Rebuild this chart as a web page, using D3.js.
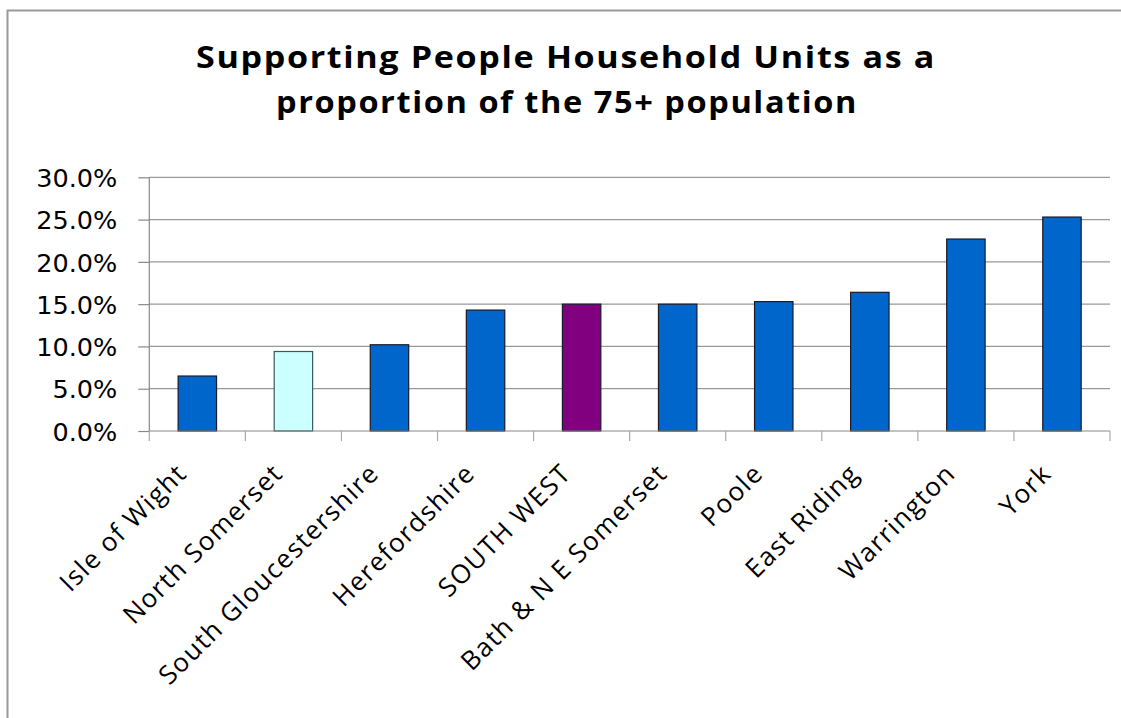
<!DOCTYPE html>
<html>
<head>
<meta charset="utf-8">
<script src="https://cdn.jsdelivr.net/npm/d3@7"></script>
<style>
  html, body { margin: 0; padding: 0; background: #fff; }
  svg { display: block; }
</style>
</head>
<body>
<svg id="chart" width="1121" height="718"></svg>
<script>
// ---- data ----
const categories = ["Isle of Wight", "North Somerset", "South Gloucestershire", "Herefordshire",
  "SOUTH WEST", "Bath & N E Somerset", "Poole", "East Riding", "Warrington", "York"];
const values = [0.065, 0.094, 0.102, 0.143, 0.150, 0.150, 0.153, 0.164, 0.227, 0.253];
const yTicks = [0, 0.05, 0.10, 0.15, 0.20, 0.25, 0.30];
const titleLines = ["Supporting People Household Units as a", "proportion of the 75+ population"];

// ---- styles ----
const colorDefault = "#0066CC";
const colorSpecial = { "North Somerset": "#CCFFFF", "SOUTH WEST": "#800080" };

const svg = d3.select("#chart");

// frame
svg.append("path")
  .attr("d", "M7.5,718 L7.5,10.5 L1121,10.5")
  .attr("fill", "none").attr("stroke", "#9a9a9a").attr("stroke-width", 2);

// title
const tWidths = [[196, 936], [276, 858]];
const tBase = [68, 113];
titleLines.forEach((t, i) => {
  svg.append("text")
    .attr("x", tWidths[i][0]).attr("y", tBase[i])
    .attr("textLength", tWidths[i][1] - tWidths[i][0])
    .attr("lengthAdjust", "spacingAndGlyphs")
    .attr("font-family", "'Open Sans', sans-serif")
    .attr("font-weight", "bold")
    .attr("font-size", 31)
    .attr("letter-spacing", 1.5)
    .attr("fill", "#000")
    .text(t);
});

const x = d3.scaleBand().domain(categories).range([149.3, 1110]).paddingInner(0.6).paddingOuter(0.3);
const y = d3.scaleLinear().domain([0, 0.30]).range([431, 177.3]);

// gridlines
svg.append("g").selectAll("line").data(yTicks.slice(1)).join("line")
  .attr("x1", 149.3).attr("x2", 1110)
  .attr("y1", d => y(d)).attr("y2", d => y(d))
  .attr("stroke", "#999").attr("stroke-width", 1.2);

// y axis
const yAxis = svg.append("g").attr("transform", "translate(149.3,0)")
  .call(d3.axisLeft(y).tickValues(yTicks).tickSize(11).tickPadding(21).tickFormat(d3.format(".1%")));
yAxis.selectAll("path, line").attr("stroke", "#888").attr("stroke-width", 1.2);
yAxis.select(".domain").attr("d", `M0,${y(0)}V${y(0.30)}`);
yAxis.selectAll("text")
  .attr("font-family", "'DejaVu Sans', sans-serif").attr("font-size", 25.5).attr("fill", "#000")
  .attr("dy", "0.36em");

// bars
svg.append("g").selectAll("rect").data(categories).join("rect")
  .attr("x", d => x(d))
  .attr("width", x.bandwidth())
  .attr("y", (d, i) => y(values[i]))
  .attr("height", (d, i) => y(0) - y(values[i]))
  .attr("fill", d => colorSpecial[d] || colorDefault)
  .attr("stroke", d => d === "North Somerset" ? "#3a5a5a" : "#1a1a2a")
  .attr("stroke-width", 1.2);

// x axis
const step = x.step();
const xAxisG = svg.append("g");
xAxisG.append("line").attr("x1", 149.3).attr("x2", 1110).attr("y1", y(0)).attr("y2", y(0))
  .attr("stroke", "#888").attr("stroke-width", 1.2);
const tickXs = d3.range(categories.length + 1).map(i => 149.3 + i * step);
xAxisG.selectAll("line.tk").data(tickXs).join("line").attr("class", "tk")
  .attr("x1", d => d).attr("x2", d => d).attr("y1", y(0)).attr("y2", y(0) + 10)
  .attr("stroke", "#aaa").attr("stroke-width", 1.2);

xAxisG.selectAll("text").data(categories).join("text")
  .attr("transform", d => `translate(${x(d) + x.bandwidth() / 2 - 9},475) rotate(-45)`)
  .attr("text-anchor", "end")
  .attr("font-family", "'Open Sans', sans-serif")
  .attr("font-size", 26)
  .attr("letter-spacing", 1.4)
  .attr("fill", "#000")
  .text(d => d);
</script>
</body>
</html>
